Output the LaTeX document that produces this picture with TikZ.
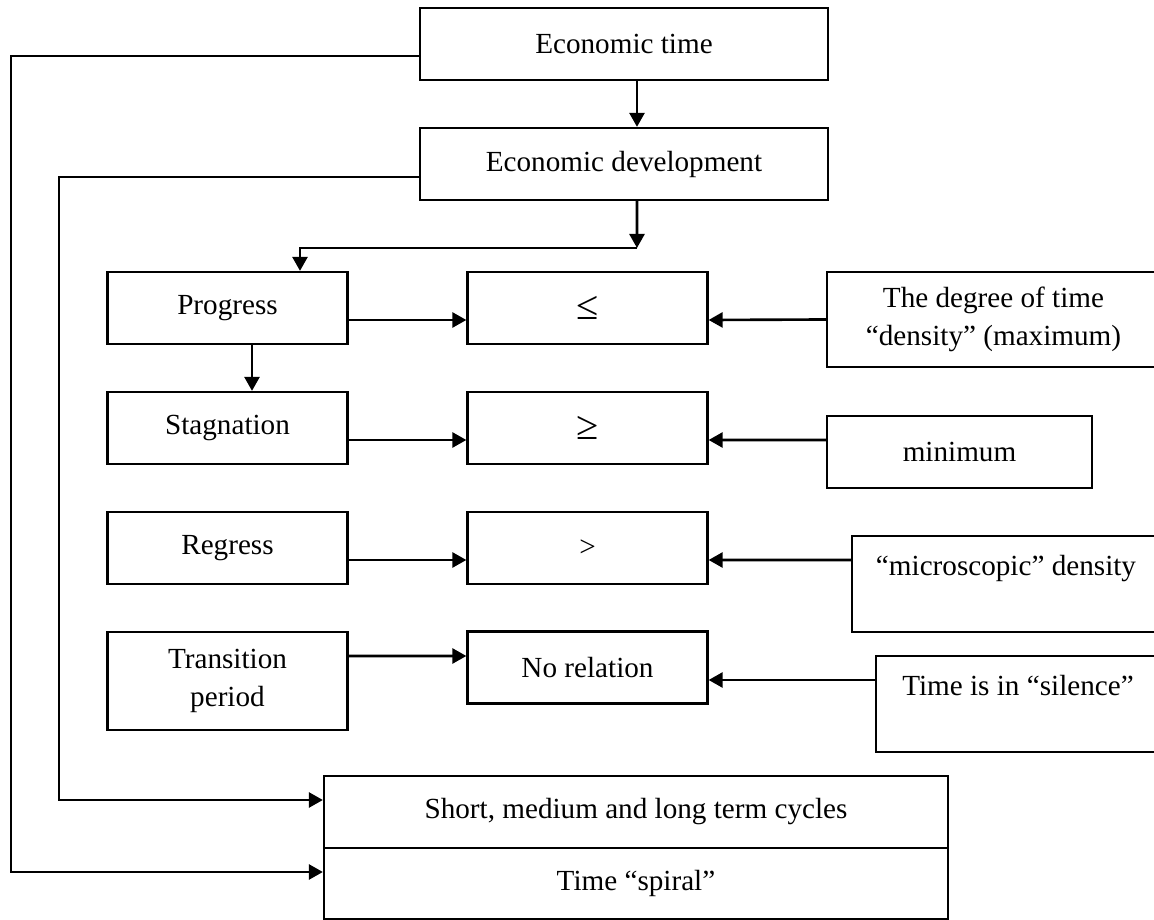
\documentclass[tikz,border=0pt]{standalone}
\usepackage{fontspec}
\setmainfont{Liberation Serif}
\usetikzlibrary{arrows.meta}

\begin{document}
\begin{tikzpicture}[
    box/.style={
        draw,
        line width=1.3pt,
        inner sep=0pt,
        align=center,
        font=\fontsize{16.6}{21.6}\selectfont
    },
    wide/.style={
        box,
        minimum width=8.16cm,
        minimum height=1.44cm
    },
    small/.style={
        box,
        minimum width=4.8cm,
        minimum height=1.44cm
    },
    arr/.style={
        line width=1.5pt,
        -{Triangle[length=0.28cm,width=0.3cm]}
    }
]

\useasboundingbox (0,0) rectangle (23.08,-18.4);

%------------------------------------------------
% Parte superior
%------------------------------------------------
\node[wide] (etime) at (12.48,-0.88) {Economic time};
\node[wide] (edev) at (12.48,-3.28) {Economic development};
\coordinate (split) at (12.74,-4.96);

%------------------------------------------------
% Columna izquierda y columna central
%------------------------------------------------
\foreach \name/\y/\txt in {progress/-6.16/Progress,
                           stagnation/-8.56/Stagnation,
                           regress/-10.96/Regress} {
    \node[small] (\name) at (4.55,\y) {\txt};
}
\node[small, minimum height=1.96cm] (transition) at (4.55,-13.62)
    {Transition\\period};

\foreach \name/\y/\txt in {leq/-6.16/{\fontsize{23}{26}\selectfont ≤},
                           geq/-8.56/{\fontsize{23}{26}\selectfont ≥},
                           gt/-10.96/>, norel/-13.35/No relation} {
    \node[small] (\name) at (11.75,\y) {\txt};
}

%------------------------------------------------
% Columna derecha
%------------------------------------------------
\node[box, minimum width=6.66cm, minimum height=1.9cm] (degree)
    at (19.87,-6.39) {The degree of time\\“density” (maximum)};
\node[box, minimum width=5.3cm, minimum height=1.44cm] (minimum)
    at (19.19,-9.04) {minimum};
\node[box, minimum width=6.16cm, minimum height=1.92cm] (micro)
    at (20.12,-11.68) {“microscopic” density\\\mbox{}};
\node[box, minimum width=5.68cm, minimum height=1.92cm] (silence)
    at (20.36,-14.08) {Time is in “silence”\\\mbox{}};

%------------------------------------------------
% Parte inferior
%------------------------------------------------
\node[box, minimum width=12.48cm, minimum height=1.44cm] (cycles)
    at (12.72,-16.24) {Short, medium and long term cycles};
\node[box, minimum width=12.48cm, minimum height=1.42cm] (spiral)
    at (12.72,-17.67) {Time “spiral”};

%------------------------------------------------
% Flechas
%------------------------------------------------
\draw[arr] ([xshift=0.26cm]etime.south) -- ([xshift=0.26cm]edev.north);
\draw[arr] ([xshift=0.26cm]edev.south) -- (split);
\draw[arr] (split) -| ([xshift=1.45cm]progress.north);
\draw[arr] ([xshift=0.49cm]progress.south) -- ([xshift=0.49cm]stagnation.north);

\foreach \l/\r in {progress/leq, stagnation/geq, regress/gt} {
    \draw[arr] ([yshift=-0.24cm]\l.east) -- ([yshift=-0.24cm]\r.west);
}
\draw[arr] ([yshift=0.5cm]transition.east) -- ([yshift=0.23cm]norel.west);

\draw[arr] (degree.west) -- ([yshift=-0.24cm]leq.east);
\draw[arr] ([yshift=0.24cm]minimum.west) -- ([yshift=-0.24cm]geq.east);
\draw[arr] ([yshift=0.48cm]micro.west) -- ([yshift=-0.24cm]gt.east);
\draw[arr] ([yshift=0.48cm]silence.west) -- ([yshift=-0.25cm]norel.east);

\draw[arr] ([yshift=-0.26cm]edev.west) -- ++(-7.2,0) |- ([yshift=0.24cm]cycles.west);
\draw[arr] ([yshift=-0.24cm]etime.west) -- ++(-8.16,0) |- ([yshift=0.23cm]spiral.west);

\end{tikzpicture}
\end{document}
